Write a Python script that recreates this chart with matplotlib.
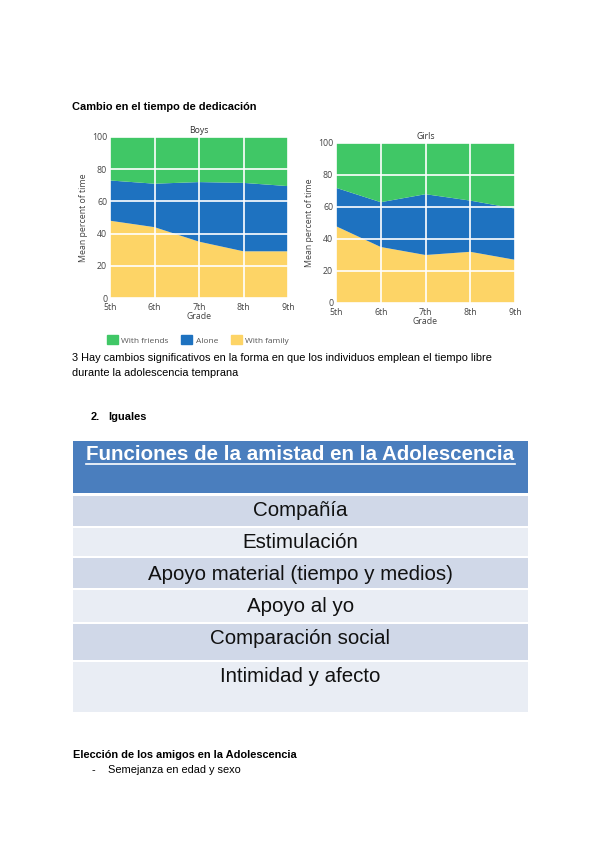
import matplotlib.pyplot as plt
from matplotlib.patches import Patch

W, H = 600, 848

grades = ["5th", "6th", "7th", "8th", "9th"]
series_names = ["With friends", "Alone", "With family"]
boys_family = [48, 44, 35, 29, 29]
boys_alone = [25, 27, 37, 42.5, 40.5]
boys_friends = [27, 29, 28, 28.5, 30.5]
girls_family = [48, 35, 30, 32, 27]
girls_alone = [24, 28, 38, 32, 32]
girls_friends = [28, 37, 32, 36, 41]

table_title = "Funciones de la amistad en la Adolescencia"
table_rows = ["Compañía", "Estimulación", "Apoyo material (tiempo y medios)",
              "Apoyo al yo", "Comparación social", "Intimidad y afecto"]

green, blue, yellow = "#40c766", "#1e72c0", "#fdd466"
header_col = "#4a7ebe"
row_cols = ["#d0d8e8", "#e9edf4"]


def box(l, t, r, b):
    # pixel box -> figure fraction
    return [l / W, 1 - b / H, (r - l) / W, (b - t) / H]


fig = plt.figure(figsize=(W / 100, H / 100), dpi=100)
fig.patch.set_facecolor("white")

# page axes in pixel coordinates
page = fig.add_axes([0, 0, 1, 1])
page.set_xlim(0, W)
page.set_ylim(H, 0)
page.axis("off")

body = ["Liberation Sans", "DejaVu Sans"]
chart_font = ["Open Sans", "DejaVu Sans"]
fs = 7.9
cfs = 6.3

page.text(72, 107, "Cambio en el tiempo de dedicación", fontsize=fs,
          fontweight="bold", family=body, va="center")


def panel(rect, title, fam, alone, friends):
    ax = fig.add_axes(rect)
    x = list(range(len(grades)))
    ax.stackplot(x, fam, alone, friends, colors=[yellow, blue, green], lw=0)
    ax.set_xlim(0, len(grades) - 1)
    ax.set_ylim(0, 100)
    ax.set_xticks(x)
    ax.set_xticklabels(grades)
    ax.set_yticks(range(0, 101, 20))
    ax.grid(True, color="white", lw=1.2)
    ax.tick_params(length=0, labelsize=cfs, labelcolor="#444")
    ax.tick_params(axis="x", pad=3.5)
    ax.tick_params(axis="y", pad=2)
    for lab in ax.get_xticklabels() + ax.get_yticklabels():
        lab.set_family(chart_font)
    for s in ax.spines.values():
        s.set_visible(False)
    ax.set_title(title, fontsize=cfs, color="#333", family=chart_font, pad=3)
    ax.set_xlabel("Grade", fontsize=cfs, color="#444", family=chart_font, labelpad=0)
    ax.set_ylabel("Mean percent of time", fontsize=cfs, color="#444",
                  family=chart_font, labelpad=3)
    return ax


panel(box(110, 137, 288, 298), "Boys", boys_family, boys_alone, boys_friends)
panel(box(336, 143, 515, 303), "Girls", girls_family, girls_alone, girls_friends)

handles = [Patch(color=c) for c in (green, blue, yellow)]
leg = fig.legend(handles, series_names, loc="center", ncol=3, frameon=False,
                 bbox_to_anchor=(198 / W, 1 - 340 / H),
                 handlelength=1.3, handleheight=1.3, columnspacing=1.5,
                 handletextpad=0.45, prop={"family": chart_font, "size": 6.0})
for t in leg.get_texts():
    t.set_color("#555")

page.text(72, 358, "3 Hay cambios significativos en la forma en que los individuos emplean el tiempo libre",
          fontsize=fs, family=body, va="center")
page.text(72, 373, "durante la adolescencia temprana", fontsize=fs, family=body, va="center")

page.text(91, 417, "2.", fontsize=fs, fontweight="bold", family=body, va="center")
page.text(108, 417, "Iguales", fontsize=fs, fontweight="bold", family=body, va="center")

# table
tl, tr = 73, 528
bounds = [495, 527, 557, 589, 623, 661, 713]
page.barh([(441 + 493) / 2], [tr - tl], left=tl, height=493 - 441, color=header_col)
for i, label in enumerate(table_rows):
    top, bot = bounds[i], bounds[i + 1]
    page.barh([(top + bot) / 2], [tr - tl], left=tl, height=bot - top - 1.5,
              color=row_cols[i % 2])
text_y = [511, 543, 574, 606, 639, 677]
for label, y in zip(table_rows, text_y):
    page.text((tl + tr) / 2, y, label, fontsize=14.8, family=body,
              ha="center", va="center", color="#111")

ht = page.text((tl + tr) / 2, 454, table_title, fontsize=14.8, fontweight="bold",
               family=body, ha="center", va="center", color="white")
fig.canvas.draw()
bb = ht.get_window_extent().transformed(page.transData.inverted())
page.plot([bb.x0, bb.x1], [464, 464], color="white", lw=1.2)

page.text(73, 755, "Elección de los amigos en la Adolescencia", fontsize=fs,
          fontweight="bold", family=body, va="center")
page.text(92, 770, "-", fontsize=fs, family=body, va="center")
page.text(108, 770, "Semejanza en edad y sexo", fontsize=fs, family=body, va="center")

fig.savefig("out.png", dpi=100, facecolor="white")
